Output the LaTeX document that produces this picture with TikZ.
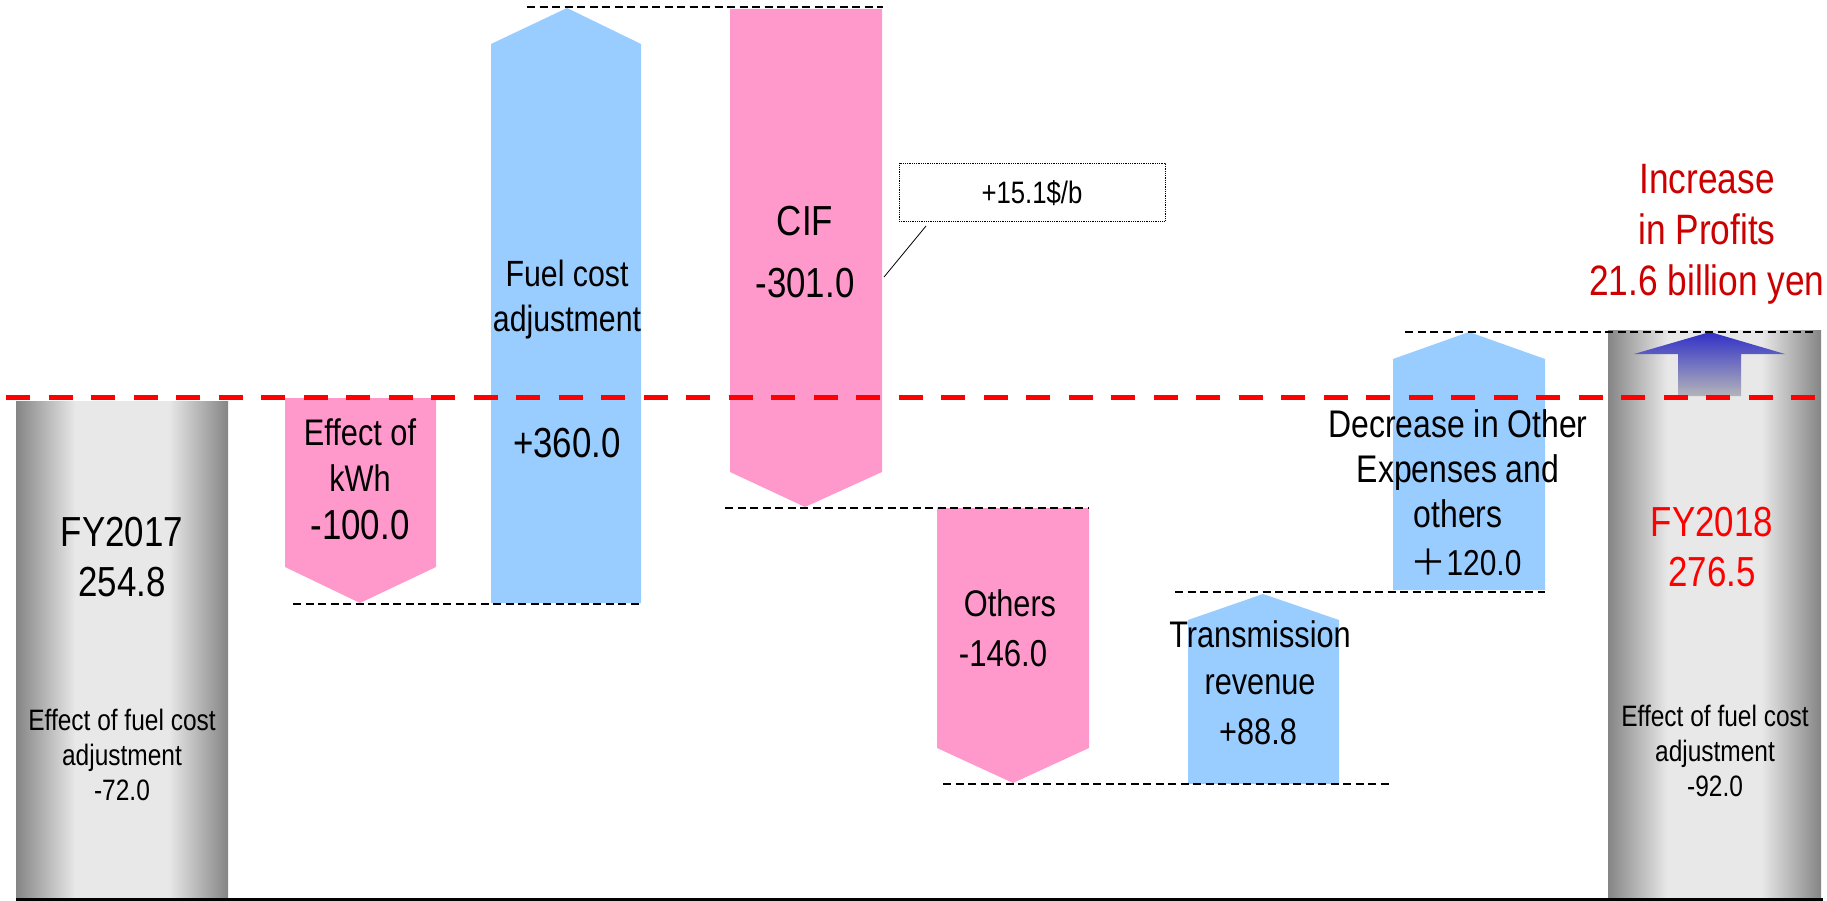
\documentclass[tikz,border=0pt]{standalone}
\usepackage{fontspec}
\setmainfont{Liberation Sans}[FakeStretch=0.83]
\newfontfamily\cjkfont{Noto Sans CJK JP}
\definecolor{pinkbar}{HTML}{FF99CC}
\definecolor{bluebar}{HTML}{99CCFF}
\definecolor{bardark}{HTML}{858585}
\definecolor{barlight}{HTML}{E8E8E8}
\definecolor{arrowtop}{HTML}{3030C8}
\definecolor{arrowbot}{HTML}{B4B4BA}
\definecolor{darkred}{HTML}{CC0000}
\definecolor{brightred}{HTML}{FF0000}
\pgfdeclarehorizontalshading{barshade}{100bp}{color(0bp)=(bardark); color(25bp)=(bardark); color(39bp)=(barlight); color(61bp)=(barlight); color(75bp)=(bardark); color(100bp)=(bardark)}
\newcommand\fsz[2]{\fontsize{#1}{#2}\selectfont}
\begin{document}
\begin{tikzpicture}[x=1pt,y=-1pt,
  lbl/.style={inner sep=0pt, align=center},
  pinkshape/.style={fill=pinkbar, draw=none},
  blueshape/.style={fill=bluebar, draw=none},
  graybar/.style={shading=barshade, draw=none},
  guide/.style={draw=black, line width=1.3pt, dash pattern=on 8pt off 4.5pt},
  refline/.style={draw=brightred, line width=5pt, dash pattern=on 24pt off 18.5pt},
  calloutbox/.style={draw=black, line width=0.8pt, densely dotted, minimum width=266pt, minimum height=58pt, inner sep=0pt}
]
\useasboundingbox (0,0) rectangle (1827,901);

% bars
\shade[graybar] (16,401) rectangle (228,898);
\shade[graybar] (1608,330) rectangle (1821,898);
\fill[pinkshape] (285,398) -- (436,398) -- (436,567) -- (360,603) -- (285,567) -- cycle;
\fill[blueshape] (491,603) -- (491,44) -- (567,8) -- (641,44) -- (641,603) -- cycle;
\fill[pinkshape] (730,9) -- (882,9) -- (882,472) -- (805,507) -- (730,472) -- cycle;
\fill[pinkshape] (937,508) -- (1089,508) -- (1089,748) -- (1013,783) -- (937,748) -- cycle;
\fill[blueshape] (1188,784) -- (1188,620) -- (1263,594) -- (1339,620) -- (1339,784) -- cycle;
\fill[blueshape] (1393,590) -- (1393,359) -- (1469,332) -- (1545,359) -- (1545,590) -- cycle;
\shade[top color=arrowtop, bottom color=arrowbot] (1678,396) -- (1678,354) -- (1634,354) -- (1710,332) -- (1785,354) -- (1741,354) -- (1741,396) -- cycle;

% guide lines
\coordinate (g1a) at (293,604); \coordinate (g1b) at (641,604);
\coordinate (g2a) at (527,7);   \coordinate (g2b) at (883,7);
\coordinate (g3a) at (725,508); \coordinate (g3b) at (1088,508);
\coordinate (g4a) at (943,784); \coordinate (g4b) at (1390,784);
\coordinate (g5a) at (1175,592); \coordinate (g5b) at (1545,592);
\coordinate (g6a) at (1405,332); \coordinate (g6b) at (1813,332);
\draw[guide] (g1a) -- (g1b);
\draw[guide] (g2a) -- (g2b);
\draw[guide] (g3a) -- (g3b);
\draw[guide] (g4a) -- (g4b);
\draw[guide] (g5a) -- (g5b);
\draw[guide] (g6a) -- (g6b);

% reference line and baseline
\coordinate (r1) at (6,397); \coordinate (r2) at (1827,397);
\draw[refline] (r1) -- (r2);
\coordinate (b1) at (16,899); \coordinate (b2) at (1823,899);
\draw[line width=3pt] (b1) -- (b2);

% callout
\node[calloutbox] (cbox) at (1032,192) {};
\node[lbl, font=\fsz{31}{36}] (ctext) at (1032,193) {+15.1\$/b};
\coordinate (cpt) at (884,277);
\coordinate (cend) at (926,226);
\draw[line width=0.8pt] (cpt) -- (cend);

% labels
\node[lbl, font=\fsz{42}{50}] (fy17) at (122,557) {FY2017\\254.8};
\node[lbl, font=\fsz{29.5}{35}] (fc17) at (122,755) {Effect of fuel cost\\adjustment\\-72.0};
\node[lbl, font=\fsz{37}{46}] (kwh) at (360,455) {Effect of\\kWh};
\node[lbl, font=\fsz{42}{50}] (kwhv) at (360,525) {-100.0};
\node[lbl, font=\fsz{36.5}{45}] (fuel) at (567,300) {Fuel cost\\adjustment};
\node[lbl, font=\fsz{42}{50}] (fuelv) at (567,443) {+360.0};
\node[lbl, font=\fsz{42}{50}] (cif) at (805,221) {CIF};
\node[lbl, font=\fsz{42}{50}] (cifv) at (805,283) {-301.0};
\node[lbl, font=\fsz{37}{46}] (oth) at (1010,603) {Others};
\node[lbl, font=\fsz{37.5}{46}] (othv) at (1003,654) {-146.0};
\node[lbl, font=\fsz{37}{47}] (trans) at (1260,658) {Transmission\\revenue};
\node[lbl, font=\fsz{37}{46}] (transv) at (1258,732) {+88.8};
\node[lbl, font=\fsz{38.5}{45}] (dec) at (1458,469) {Decrease in Other\\Expenses and\\others};
\node[lbl, font=\fsz{36}{45}] (decv) at (1466,562) {{\cjkfont ＋}120.0};
\node[lbl, font=\fsz{42.5}{51}, text=darkred] (inc) at (1707,234) {Increase\\in Profits\\21.6 billion yen};
\node[lbl, font=\fsz{42}{50}, text=brightred] (fy18) at (1712,547) {FY2018\\276.5};
\node[lbl, font=\fsz{29.5}{35}] (fc18) at (1715,751) {Effect of fuel cost\\adjustment\\-92.0};
\end{tikzpicture}
\end{document}
